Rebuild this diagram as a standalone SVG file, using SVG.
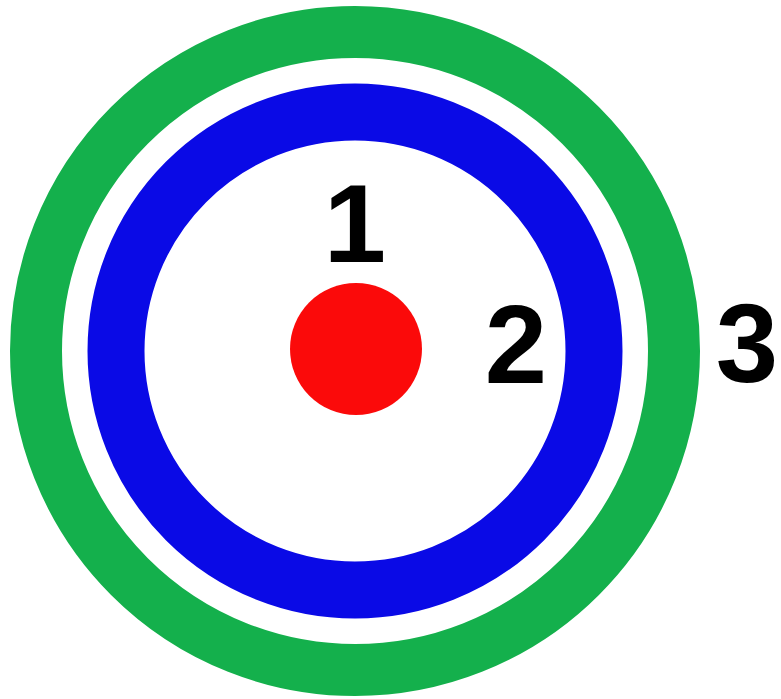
<svg xmlns="http://www.w3.org/2000/svg" width="781" height="699" viewBox="0 0 781 699">
<style>
.ring{fill:none}
.lbl{font-family:"Liberation Sans",Arial,sans-serif;font-weight:bold;font-size:112px;fill:#000;text-anchor:middle}
</style>
<rect width="781" height="699" fill="#fff"/>
<g id="ring3"><circle class="ring" cx="355" cy="351" r="319" stroke="#14b04c" stroke-width="52"/></g>
<g id="ring2"><circle class="ring" cx="355" cy="351" r="239" stroke="#0a0ae6" stroke-width="57"/></g>
<g id="core"><circle cx="356" cy="349" r="66" fill="#fb0a0a"/></g>
<g id="labels">
<text class="lbl" x="355" y="262">1</text>
<text class="lbl" x="516" y="383">2</text>
<text class="lbl" x="747" y="382">3</text>
</g>
</svg>
